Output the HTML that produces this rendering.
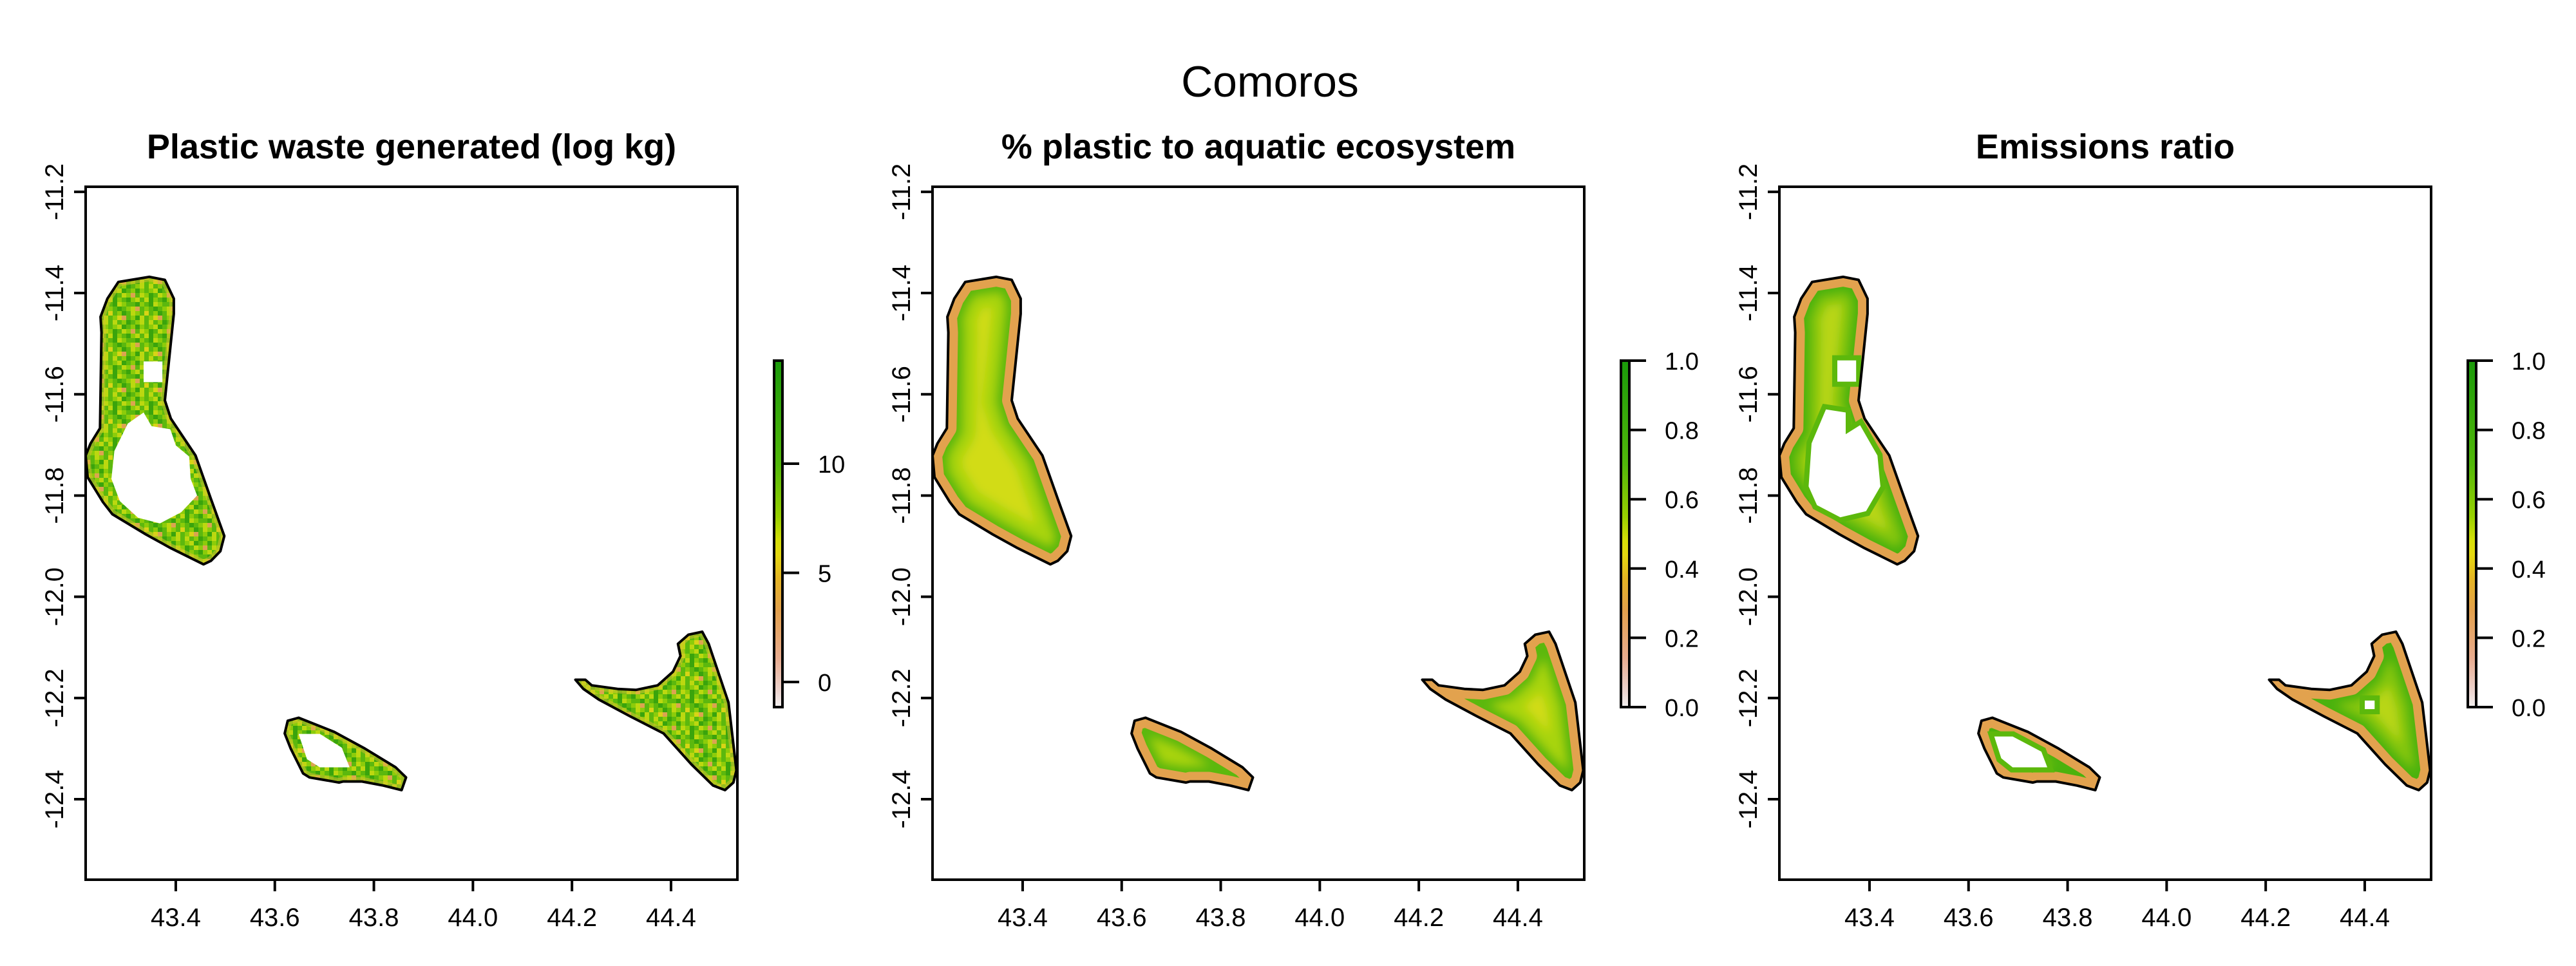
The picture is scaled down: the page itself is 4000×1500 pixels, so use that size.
<!DOCTYPE html>
<html><head><meta charset="utf-8">
<style>
html,body{margin:0;padding:0;background:#fff;}
svg{display:block;font-family:"Liberation Sans",Arial,sans-serif;}
</style></head>
<body>
<svg id="chart" width="4000" height="1500" viewBox="0 0 4000 1500" xmlns="http://www.w3.org/2000/svg">
<defs>
<linearGradient id="cbgrad" x1="0" y1="0" x2="0" y2="1">
<stop offset="0" stop-color="#1a9a0a"/>
<stop offset="0.3" stop-color="#52b80a"/>
<stop offset="0.45" stop-color="#98d000"/>
<stop offset="0.52" stop-color="#d6de08"/>
<stop offset="0.56" stop-color="#e4d810"/>
<stop offset="0.63" stop-color="#e4b424"/>
<stop offset="0.72" stop-color="#e2a04c"/>
<stop offset="0.86" stop-color="#e8ac90"/>
<stop offset="0.95" stop-color="#ecd2cc"/>
<stop offset="1" stop-color="#f2f0f0"/>
</linearGradient>
<filter id="soft" x="-20%" y="-20%" width="140%" height="140%"><feGaussianBlur stdDeviation="7"/></filter>
</defs>
<text x="1972" y="150" font-size="68" text-anchor="middle">Comoros</text>
</svg>
<script>
// ---- data ----
const xTicks = [43.4, 43.6, 43.8, 44.0, 44.2, 44.4];
const xTickLabels = ["43.4","43.6","43.8","44.0","44.2","44.4"];
const yTicks = [-11.2, -11.4, -11.6, -11.8, -12.0, -12.2, -12.4];
const yTickLabels = ["-11.2","-11.4","-11.6","-11.8","-12.0","-12.2","-12.4"];
const xDomain = [43.218, 44.534];
const yDomain = [-11.19, -12.559];
const panelTitles = ["Plastic waste generated (log kg)", "% plastic to aquatic ecosystem", "Emissions ratio"];
const cbDomains = [[-1.15, 14.72], [0, 1], [0, 1]];
const cbTicks1 = [0, 5, 10];
const cbTicks2 = [0, 0.2, 0.4, 0.6, 0.8, 1.0];
const cbTickLabels2 = ["0.0","0.2","0.4","0.6","0.8","1.0"];

const grandeLon = [43.284,43.347,43.378,43.396,43.396,43.378,43.390,43.440,43.471,43.498,43.490,43.471,43.456,43.390,43.340,43.272,43.253,43.222,43.218,43.228,43.247,43.250,43.248,43.262];
const grandeLat = [-11.378,-11.368,-11.374,-11.411,-11.441,-11.612,-11.648,-11.721,-11.807,-11.880,-11.910,-11.929,-11.936,-11.904,-11.877,-11.837,-11.813,-11.764,-11.721,-11.697,-11.667,-11.478,-11.447,-11.411];
const moheliLon = [43.626,43.648,43.720,43.782,43.844,43.865,43.856,43.819,43.776,43.738,43.730,43.670,43.657,43.632,43.620];
const moheliLat = [-12.245,-12.239,-12.267,-12.300,-12.337,-12.357,-12.382,-12.373,-12.365,-12.365,-12.367,-12.357,-12.349,-12.300,-12.270];
const anjouanLon = [44.207,44.227,44.240,44.292,44.329,44.373,44.404,44.419,44.414,44.435,44.463,44.476,44.516,44.532,44.526,44.509,44.485,44.441,44.385,44.317,44.254,44.223];
const anjouanLat = [-12.164,-12.164,-12.175,-12.182,-12.184,-12.175,-12.148,-12.117,-12.093,-12.075,-12.069,-12.093,-12.209,-12.343,-12.367,-12.382,-12.373,-12.331,-12.270,-12.236,-12.203,-12.182];

// white (no-data) holes
const p1HoleBigLon = [43.303,43.335,43.351,43.389,43.400,43.427,43.430,43.443,43.411,43.368,43.324,43.287,43.270,43.276];
const p1HoleBigLat = [-11.658,-11.636,-11.663,-11.669,-11.701,-11.723,-11.767,-11.800,-11.833,-11.855,-11.844,-11.811,-11.767,-11.712];
const p1HoleSmallLon = [43.335,43.373,43.373,43.335];
const p1HoleSmallLat = [-11.535,-11.535,-11.576,-11.576];
const p1HoleMohLon = [43.648,43.691,43.735,43.751,43.691,43.665];
const p1HoleMohLat = [-12.271,-12.271,-12.298,-12.337,-12.337,-12.321];
const p3HoleBigLon = [43.312,43.352,43.352,43.381,43.416,43.422,43.393,43.341,43.294,43.277,43.283];
const p3HoleBigLat = [-11.630,-11.636,-11.679,-11.661,-11.721,-11.782,-11.831,-11.843,-11.819,-11.782,-11.697];
const p3HoleSmallLon = [43.335,43.373,43.373,43.335];
const p3HoleSmallLat = [-11.533,-11.533,-11.575,-11.575];
const p3HoleMohLon = [43.652,43.689,43.747,43.759,43.689,43.666];
const p3HoleMohLat = [-12.276,-12.276,-12.306,-12.337,-12.337,-12.319];
const p3HoleAnjLon = [44.400,44.420,44.420,44.400];
const p3HoleAnjLat = [-12.205,-12.205,-12.222,-12.222];

// ---- layout ----
const NS = "http://www.w3.org/2000/svg";
const svg = document.getElementById("chart");
const defs = svg.querySelector("defs");
const PW = 1012, PT = 290, PB = 1366, PERIOD = 1315, PL0 = 133;
function mk(tag, attrs, parent) {
  const e = document.createElementNS(NS, tag);
  for (const k in attrs) e.setAttribute(k, attrs[k]);
  (parent || svg).appendChild(e);
  return e;
}
function sxF(ox){ return lon => ox + (lon - xDomain[0]) / (xDomain[1] - xDomain[0]) * PW; }
function sy(lat){ return PT + (yDomain[0] - lat) / (yDomain[0] - yDomain[1]) * (PB - PT); }
function pts(lons, lats, sx){ return lons.map((l,i)=> sx(l).toFixed(1)+","+sy(lats[i]).toFixed(1)).join(" "); }

// mottled texture for panel 1
const mottle = mk("pattern", {id:"mottle", x:0, y:0, width:56, height:56, patternUnits:"userSpaceOnUse"}, defs);
const pal = {g:"#5cb80e", G:"#3aa40c", l:"#8ccc0a", y:"#bcd810", Y:"#d8d416", o:"#dca450", p:"#e4b290"};
const tex = ["glyGglGl","lGgylogy","yGlgGlyg","gGylggGl","lgGglyog","YglGgylg","glYoglGy","gyglGgly"];
for (let r=0;r<8;r++) for (let c=0;c<8;c++) {
  mk("rect", {x:c*7, y:r*7, width:7, height:7, fill:pal[tex[r][c]]}, mottle);
}

const islands = [[grandeLon, grandeLat, "grande-comore"], [moheliLon, moheliLat, "moheli"], [anjouanLon, anjouanLat, "anjouan"]];

for (let p = 0; p < 3; p++) {
  const ox = PL0 + p * PERIOD;
  const sx = sxF(ox);
  const g = mk("g", {});
  
  

  const t = mk("text", {x: ox + PW/2, y: 246, "font-size": 54, "font-weight": "bold", "text-anchor": "middle"}, g);
  
  
  t.textContent = panelTitles[p];

  islands.forEach(([lons, lats, nm], k) => {
    const cid = "clip" + p + "_" + k;
    const cp = mk("clipPath", {id: cid}, defs);
    mk("polygon", {points: pts(lons, lats, sx)}, cp);
    const ig = mk("g", {"clip-path": "url(#" + cid + ")"}, g);
    
    
    const P = pts(lons, lats, sx);
    if (p === 0) {
      mk("polygon", {points: P, fill: "url(#mottle)"}, ig);
      mk("polygon", {points: P, fill: "none", stroke: "#d8c030", "stroke-width": 14, opacity: 0.5}, ig);
    } else {
      const inner = mk("g", {filter: "url(#soft)"}, ig);
      if (p === 1) {
        mk("polygon", {points: P, fill: "#d2dc12", stroke: "#d2dc12", "stroke-width": 4}, inner);
        mk("polygon", {points: P, fill: "none", stroke: "#a8d40c", "stroke-width": 90, "stroke-linejoin": "round"}, inner);
        mk("polygon", {points: P, fill: "none", stroke: "#5cb80c", "stroke-width": 50, "stroke-linejoin": "round"}, inner);
      } else {
        mk("polygon", {points: P, fill: "#b8d612"}, inner);
        mk("polygon", {points: P, fill: "none", stroke: "#84c60c", "stroke-width": 80, "stroke-linejoin": "round"}, inner);
        mk("polygon", {points: P, fill: "none", stroke: "#4cb20c", "stroke-width": 50, "stroke-linejoin": "round"}, inner);
      }
      mk("polygon", {points: P, fill: "none", stroke: "#e2a24e", "stroke-width": 30, "stroke-linejoin": "round"}, ig);
    }
  });

  // holes
  let holes = [];
  if (p === 0) holes = [[p1HoleBigLon,p1HoleBigLat],[p1HoleSmallLon,p1HoleSmallLat],[p1HoleMohLon,p1HoleMohLat]];
  if (p === 2) holes = [[p3HoleBigLon,p3HoleBigLat],[p3HoleSmallLon,p3HoleSmallLat],[p3HoleMohLon,p3HoleMohLat],[p3HoleAnjLon,p3HoleAnjLat]];
  holes.forEach(([lo, la]) => {
    if (p === 2) mk("polygon", {points: pts(lo, la, sx), fill: "none", stroke: "#5cb80c", "stroke-width": 16}, g);
    const h = mk("polygon", {points: pts(lo, la, sx), fill: "#ffffff"}, g);
    
    
  });

  islands.forEach(([lons, lats, nm]) => {
    const o = mk("polygon", {points: pts(lons, lats, sx), fill: "none", stroke: "#000", "stroke-width": 4, "stroke-linejoin": "round"}, g);
    
    
  });

  const box = mk("rect", {x: ox, y: PT, width: PW, height: PB - PT, fill: "none", stroke: "#000", "stroke-width": 4}, g);
  
  

  xTicks.forEach((v, i) => {
    const x = sx(v);
    const tk = mk("line", {x1: x, y1: PB, x2: x, y2: PB + 18, stroke: "#000", "stroke-width": 4}, g);
    
    
    const lb = mk("text", {x: x, y: 1438, "font-size": 40, "text-anchor": "middle"}, g);
    
    
    lb.textContent = xTickLabels[i];
  });
  yTicks.forEach((v, i) => {
    const y = sy(v);
    const tk = mk("line", {x1: ox, y1: y, x2: ox - 18, y2: y, stroke: "#000", "stroke-width": 4}, g);
    
    
    const lx = ox - 35;
    const lb = mk("text", {x: lx, y: y, "font-size": 40, "text-anchor": "middle", transform: "rotate(-90 " + lx + " " + y + ")"}, g);
    
    
    lb.textContent = yTickLabels[i];
  });

  // colorbar
  const cbx = ox + 1069, cbw = 13, cbt = 560, cbb = 1098;
  const dom = cbDomains[p];
  const cy = v => cbb - (v - dom[0]) / (dom[1] - dom[0]) * (cbb - cbt);
  const cb = mk("rect", {x: cbx, y: cbt, width: cbw, height: cbb - cbt, fill: "url(#cbgrad)", stroke: "#000", "stroke-width": 4}, g);
  
  
  const ticks = p === 0 ? cbTicks1 : cbTicks2;
  ticks.forEach((v, i) => {
    const y = cy(v);
    const tk = mk("line", {x1: cbx + cbw, y1: y, x2: cbx + cbw + 26, y2: y, stroke: "#000", "stroke-width": 4}, g);
    
    
    const lb = mk("text", {x: ox + 1137, y: y + 14, "font-size": 38}, g);
    
    
    lb.textContent = p === 0 ? String(v) : cbTickLabels2[i];
  });
}
</script>
</body></html>
